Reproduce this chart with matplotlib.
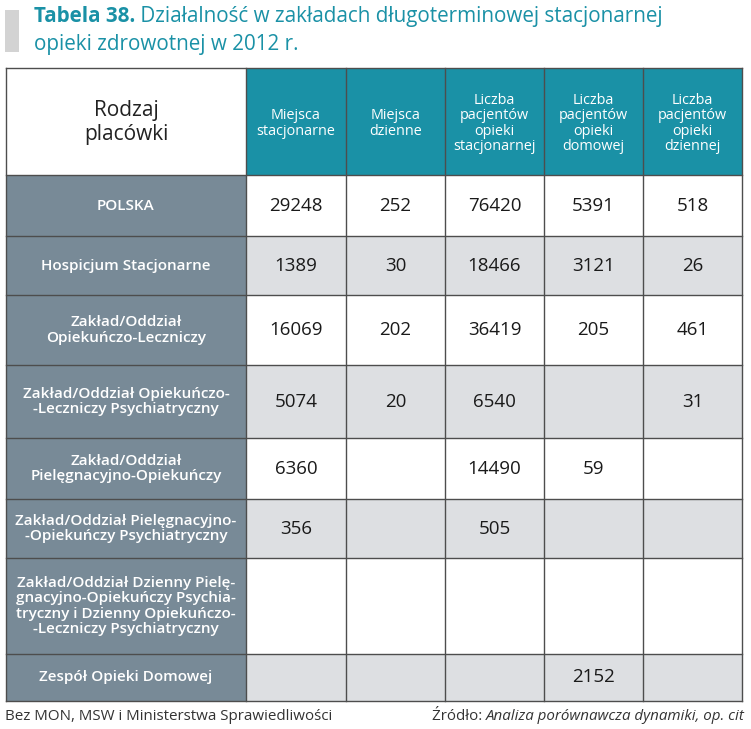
import matplotlib
matplotlib.use("Agg")
import matplotlib.pyplot as plt
import matplotlib.patches as patches

plt.rcParams['font.family'] = ['Open Sans', 'DejaVu Sans']

# %% data
title_bold = "Tabela 38."
title_rest1 = " Działalność w zakładach długoterminowej stacjonarnej"
title_rest2 = "opieki zdrowotnej w 2012 r."
corner_label = "Rodzaj\nplacówki"
col_headers = ["Miejsca\nstacjonarne", "Miejsca\ndzienne",
               "Liczba\npacjentów\nopieki\nstacjonarnej",
               "Liczba\npacjentów\nopieki\ndomowej",
               "Liczba\npacjentów\nopieki\ndziennej"]
row_labels = ["POLSKA",
              "Hospicjum Stacjonarne",
              "Zakład/Oddział\nOpiekuńczo-Leczniczy",
              "Zakład/Oddział Opiekuńczo-\n-Leczniczy Psychiatryczny",
              "Zakład/Oddział\nPielęgnacyjno-Opiekuńczy",
              "Zakład/Oddział Pielęgnacyjno-\n-Opiekuńczy Psychiatryczny",
              "Zakład/Oddział Dzienny Pielę-\ngnacyjno-Opiekuńczy Psychia-\ntryczny i Dzienny Opiekuńczo-\n-Leczniczy Psychiatryczny",
              "Zespół Opieki Domowej"]
miejscaStac = [29248, 1389, 16069, 5074, 6360, 356, None, None]
miejscaDzien = [252, 30, 202, 20, None, None, None, None]
pacjStac = [76420, 18466, 36419, 6540, 14490, 505, None, None]
pacjDom = [5391, 3121, 205, None, 59, None, None, 2152]
pacjDzien = [518, 26, 461, 31, None, None, None, None]
note_left = "Bez MON, MSW i Ministerstwa Sprawiedliwości"
note_src = "Źródło: "
note_src_it = "Analiza porównawcza dynamiki, op. cit"

columns = [miejscaStac, miejscaDzien, pacjStac, pacjDom, pacjDzien]

# %% layout (pixels)
teal = "#1a91a6"
slate = "#788a97"
lightGray = "#dddfe2"
lineCol = "#4d4d4d"
xEdges = [6, 246, 346, 445, 544, 643, 742]
yTop = 68
yHead = 175
yEdges = [175, 236, 295, 365, 438, 499, 558, 654, 701]

fig = plt.figure(figsize=(7.51, 7.29), dpi=100)
ax = fig.add_axes([0, 0, 1, 1])
ax.set_xlim(0, 751)
ax.set_ylim(729, 0)
ax.axis("off")

# title
ax.add_patch(patches.Rectangle((5, 10), 14, 42, color="#d3d3d3", lw=0))
t1 = ax.text(34, 16, title_bold, color=teal, fontsize=14.9, fontweight="bold",
             va="center", ha="left")
fig.canvas.draw()
rend = fig.canvas.get_renderer()
bb = t1.get_window_extent(rend).transformed(ax.transData.inverted())
ax.text(bb.x1, 16, title_rest1, color=teal, fontsize=14.9, va="center", ha="left")
ax.text(34, 44, title_rest2, color=teal, fontsize=14.9, va="center", ha="left")

# header
ax.add_patch(patches.Rectangle((xEdges[0], yTop), xEdges[1] - xEdges[0], yHead - yTop,
                               facecolor="white", lw=0))
ax.text((xEdges[0] + xEdges[1]) / 2, (yTop + yHead) / 2 + 1, corner_label,
        fontsize=15, ha="center", va="center", color="#222222", linespacing=1.2)
for j, h in enumerate(col_headers):
    ax.add_patch(patches.Rectangle((xEdges[j + 1], yTop), xEdges[j + 2] - xEdges[j + 1],
                                   yHead - yTop, facecolor=teal, lw=0))
    ax.text((xEdges[j + 1] + xEdges[j + 2]) / 2, (yTop + yHead) / 2 + 2, h,
            fontsize=10.4, ha="center", va="center", color="white", linespacing=1.02)

# body
for i, lab in enumerate(row_labels):
    y0, y1 = yEdges[i], yEdges[i + 1]
    ym = (y0 + y1) / 2
    ax.add_patch(patches.Rectangle((xEdges[0], y0), xEdges[1] - xEdges[0], y1 - y0,
                                   facecolor=slate, lw=0))
    ax.text((xEdges[0] + xEdges[1]) / 2, ym, lab, fontsize=11, fontweight="semibold",
            ha="center", va="center", color="white", linespacing=1.15)
    fc = "white" if i % 2 == 0 else lightGray
    for j, col in enumerate(columns):
        ax.add_patch(patches.Rectangle((xEdges[j + 1], y0), xEdges[j + 2] - xEdges[j + 1],
                                       y1 - y0, facecolor=fc, lw=0))
        if col[i] is not None:
            ax.text((xEdges[j + 1] + xEdges[j + 2]) / 2, ym, str(col[i]), fontsize=13.5,
                    ha="center", va="center", color="#1a1a1a")

# grid lines
for x in xEdges:
    ax.plot([x, x], [yTop, yEdges[-1]], color=lineCol, lw=1.0)
for y in [yTop] + yEdges:
    ax.plot([xEdges[0], xEdges[-1]], [y, y], color=lineCol, lw=1.0)

# footer
ax.text(5, 716, note_left, fontsize=10.9, ha="left", va="center", color="#333333")
t2 = ax.text(745, 716, note_src_it, fontsize=10.9, style="italic", ha="right",
             va="center", color="#333333")
fig.canvas.draw()
bb2 = t2.get_window_extent(rend).transformed(ax.transData.inverted())
ax.text(bb2.x0, 716, note_src, fontsize=10.9, ha="right", va="center", color="#333333")

fig.savefig("out.png", dpi=100)
